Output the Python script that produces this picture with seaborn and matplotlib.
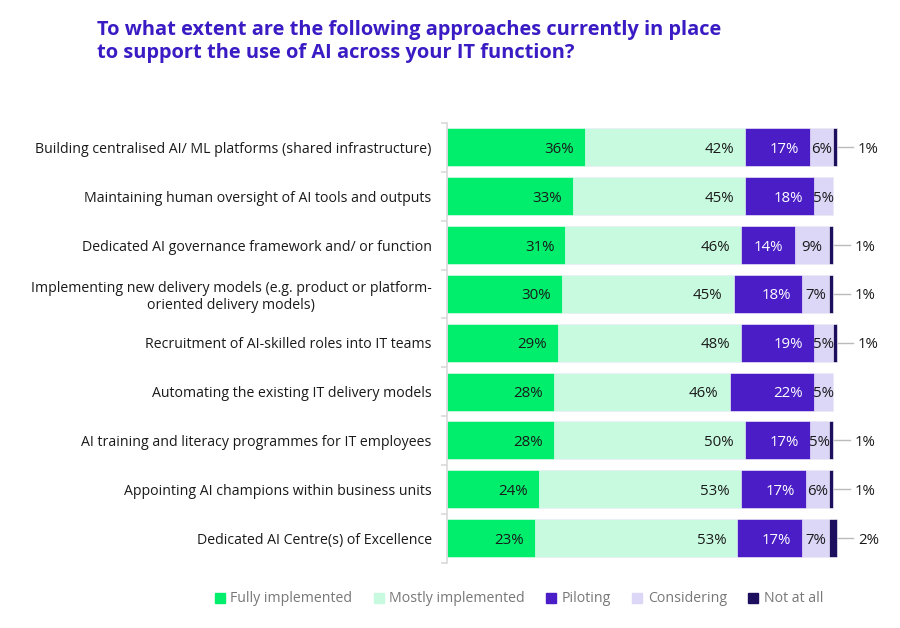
import numpy as np
import pandas as pd
import matplotlib
matplotlib.use("Agg")
import matplotlib.pyplot as plt
import seaborn as sns

CATEGORIES = [
    "Building centralised AI/ ML platforms (shared infrastructure)",
    "Maintaining human oversight of AI tools and outputs",
    "Dedicated AI governance framework and/ or function",
    "Implementing new delivery models (e.g. product or platform-\noriented delivery models)",
    "Recruitment of AI-skilled roles into IT teams",
    "Automating the existing IT delivery models",
    "AI training and literacy programmes for IT employees",
    "Appointing AI champions within business units",
    "Dedicated AI Centre(s) of Excellence",
]
SERIES = ["Fully implemented", "Mostly implemented", "Piloting", "Considering", "Not at all"]
FULLY = [36, 33, 31, 30, 29, 28, 28, 24, 23]
MOSTLY = [42, 45, 46, 45, 48, 46, 50, 53, 53]
PILOTING = [17, 18, 14, 18, 19, 22, 17, 17, 17]
CONSIDERING = [6, 5, 9, 7, 5, 5, 5, 6, 7]
NOT_AT_ALL = [1, 0, 1, 1, 1, 0, 1, 1, 2]
COLORS = ["#00EE6C", "#C8FADF", "#4A1DC6", "#DCD6F7", "#1E0F5E"]
TITLE = "To what extent are the following approaches currently in place\nto support the use of AI across your IT function?"

FONT = "Open Sans"
plt.rcParams["font.family"] = [FONT, "DejaVu Sans"]

df = pd.DataFrame({"category": CATEGORIES, "Fully implemented": FULLY, "Mostly implemented": MOSTLY,
                   "Piloting": PILOTING, "Considering": CONSIDERING, "Not at all": NOT_AT_ALL})
cum = df[SERIES].cumsum(axis=1)

XMAX = 104
PX_PER = 3.82
fig = plt.figure(figsize=(9, 6.28), dpi=100)
ax = fig.add_axes([447 / 900, 1 - 562.5 / 628, XMAX * PX_PER / 900, 439.5 / 628])

# stacked bars: draw cumulative totals from the back to the front
for s, c in reversed(list(zip(SERIES, COLORS))):
    sns.barplot(x=cum[s], y=df["category"], orient="h", color=c, width=0.78, saturation=1,
                edgecolor="white", linewidth=0.4, ax=ax, legend=False)

ax.set_xlim(0, XMAX)
ax.set_ylim(8.5, -0.5)
ax.set_xlabel("")
ax.set_ylabel("")
ax.set_xticks([])
for sp in ["top", "right", "bottom"]:
    ax.spines[sp].set_visible(False)
ax.spines["left"].set_color("#d9d9d9")
ax.spines["left"].set_linewidth(1.2)
ax.set_yticks(range(len(CATEGORIES)))
ax.set_yticklabels(CATEGORIES, fontsize=10.2, color="#1a1a1a")
for lab in ax.get_yticklabels():
    lab.set_multialignment("center")
ax.tick_params(axis="y", which="major", length=0, pad=11)
ax.set_yticks(np.arange(-0.5, 9, 1), minor=True)
ax.tick_params(axis="y", which="minor", length=4, color="#d9d9d9", width=1.2)

# value labels
for i in range(len(CATEGORIES)):
    left = 0
    for s in SERIES:
        v = df.loc[i, s]
        right = left + v
        if v > 0:
            if s in ("Fully implemented", "Mostly implemented"):
                ax.text(right - 2.9, i, f"{v}%", ha="right", va="center_baseline", fontsize=10.8, color="#1a1a1a")
            elif s == "Piloting":
                ax.text(right - 2.9, i, f"{v}%", ha="right", va="center_baseline", fontsize=10.8, color="white")
            elif s == "Considering":
                ax.text(left + v / 2, i, f"{v}%", ha="center", va="center_baseline", fontsize=10.8, color="#1a1a1a")
            else:
                ax.plot([right + 0.4, right + 4.4], [i, i], color="#bbbbbb", lw=1, clip_on=False)
                ax.text(right + 5.6, i, f"{v}%", ha="left", va="center_baseline", fontsize=10.8, color="#1a1a1a",
                        clip_on=False)
        left = right

fig.text(97 / 900, 1 - 20 / 628, TITLE, ha="left", va="top", fontsize=14.4, fontweight="bold",
         color="#3A1BC4", linespacing=1.2)

handles = [plt.Rectangle((0, 0), 1, 1, color=c) for c in COLORS]
fig.legend(handles, SERIES, loc="center", bbox_to_anchor=(519 / 900, 1 - 599 / 628), ncol=5, frameon=False,
           fontsize=10.2, handlelength=0.7, handleheight=0.7, handletextpad=0.4, columnspacing=1.5,
           labelcolor="#777777")

fig.savefig("out.png", dpi=100, facecolor="white")
